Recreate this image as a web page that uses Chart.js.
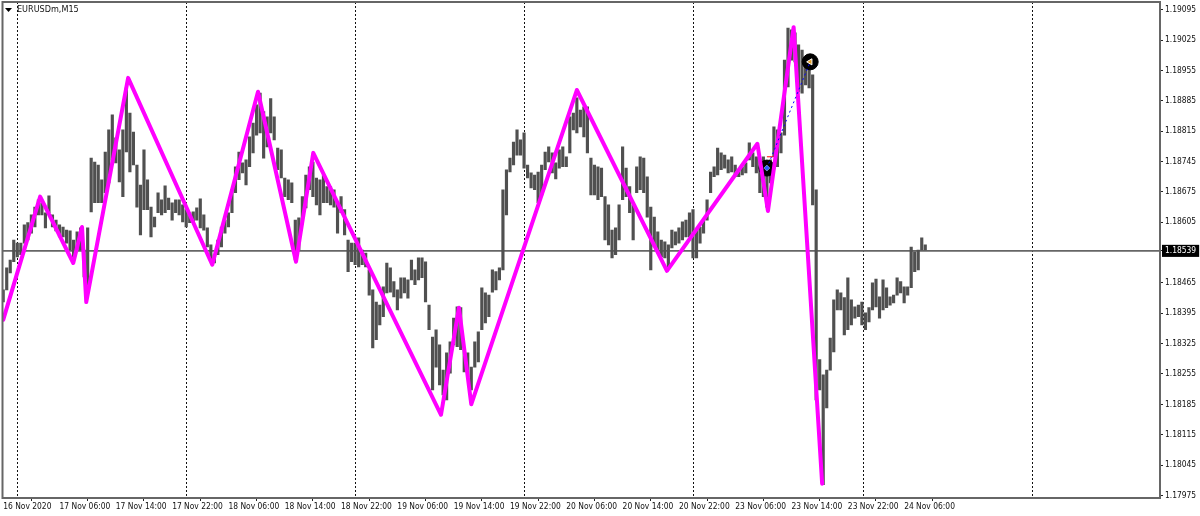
<!DOCTYPE html>
<html><head><meta charset="utf-8">
<style>html,body{margin:0;padding:0;background:#fff}canvas{display:block}</style>
<script src="https://cdn.jsdelivr.net/npm/chart.js@4"></script>
</head><body><canvas id="c" width="1200" height="516"></canvas>
<script>
const symbolTitle = 'EURUSDm,M15';
const timeLabels = ['16 Nov 2020','17 Nov 06:00','17 Nov 14:00','17 Nov 22:00','18 Nov 06:00','18 Nov 14:00','18 Nov 22:00','19 Nov 06:00','19 Nov 14:00','19 Nov 22:00','20 Nov 06:00','20 Nov 14:00','20 Nov 22:00','23 Nov 06:00','23 Nov 14:00','23 Nov 22:00','24 Nov 06:00'];
const labelStep = 16;
const dayLines = [4,52,100,148,196.2,244.5,292.5];
const priceTicks = [1.19095,1.19025,1.18955,1.18885,1.18815,1.18745,1.18675,1.18605,1.18465,1.18395,1.18325,1.18255,1.18185,1.18115,1.18045,1.17975];
const lastPrice = 1.18539;
// half-hour samples, prices in points (1e-5)
const highPts = [118449,118500,118518,118564,118557,118557,118599,118604,118622,118640,118657,118650,118627,118666,118622,118610,118599,118594,118587,118585,118564,118583,118592,118541,118592,118753,118744,118737,118703,118767,118818,118853,118800,118772,118818,118915,118857,118813,118737,118691,118772,118703,118640,118617,118673,118657,118689,118661,118650,118657,118657,118645,118634,118627,118629,118638,118659,118622,118592,118553,118530,118564,118594,118610,118627,118680,118733,118767,118742,118749,118802,118834,118876,118903,118860,118848,118890,118848,118776,118772,118707,118703,118696,118610,118615,118664,118714,118733,118744,118707,118703,118714,118687,118687,118680,118650,118664,118634,118564,118557,118557,118569,118541,118534,118495,118449,118421,118414,118456,118511,118500,118468,118449,118477,118477,118472,118518,118495,118523,118523,118514,118414,118340,118357,118322,118264,118304,118329,118384,118410,118408,118311,118304,118271,118329,118352,118454,118442,118437,118495,118491,118500,118680,118726,118753,118790,118818,118795,118811,118737,118719,118714,118721,118737,118767,118779,118765,118742,118772,118779,118756,118848,118857,118892,118864,118871,118871,118753,118737,118733,118730,118664,118645,118587,118592,118645,118779,118730,118687,118645,118733,118756,118753,118710,118640,118617,118583,118564,118560,118553,118587,118583,118592,118606,118610,118627,118634,118587,118594,118610,118657,118721,118733,118776,118765,118760,118749,118756,118737,118726,118733,118742,118788,118765,118756,118749,118756,118737,118749,118825,118818,118811,118979,119053,119049,119042,119014,119002,118968,118973,118945,118680,118288,118253,118264,118338,118426,118449,118442,118431,118477,118426,118410,118414,118421,118396,118408,118465,118474,118433,118472,118454,118433,118437,118477,118468,118456,118456,118548,118537,118541,118569,118553];
const lowPts = [118421,118449,118488,118514,118525,118530,118557,118564,118580,118594,118622,118622,118592,118627,118594,118585,118571,118571,118557,118541,118525,118541,118541,118479,118456,118629,118650,118650,118650,118673,118696,118749,118742,118698,118664,118767,118721,118737,118640,118576,118634,118634,118571,118594,118627,118622,118627,118634,118610,118627,118622,118606,118594,118604,118604,118610,118592,118587,118548,118518,118511,118530,118548,118580,118594,118627,118673,118703,118719,118691,118733,118765,118806,118811,118753,118779,118811,118795,118726,118707,118664,118657,118650,118518,118541,118604,118638,118680,118664,118645,118622,118650,118650,118645,118640,118580,118627,118576,118491,118514,118507,118502,118507,118502,118437,118315,118334,118368,118387,118442,118444,118433,118403,118430,118442,118430,118472,118461,118472,118477,118421,118357,118218,118271,118230,118207,118195,118257,118322,118318,118311,118260,118248,118218,118271,118283,118357,118373,118387,118444,118449,118472,118495,118622,118721,118737,118760,118760,118730,118707,118684,118680,118650,118668,118726,118744,118719,118705,118730,118733,118733,118765,118818,118811,118825,118802,118765,118668,118668,118657,118664,118564,118553,118523,118530,118564,118657,118664,118627,118564,118673,118680,118673,118617,118495,118548,118534,118525,118523,118502,118546,118553,118557,118564,118571,118571,118523,118523,118557,118580,118610,118673,118710,118714,118726,118730,118719,118721,118710,118710,118714,118719,118749,118733,118719,118673,118664,118640,118696,118756,118733,118765,118806,118917,118979,118975,118906,118903,118922,118915,118645,118195,118218,118000,118177,118264,118306,118403,118403,118345,118357,118368,118384,118387,118368,118357,118375,118403,118410,118384,118403,118408,118414,118419,118437,118442,118419,118437,118454,118491,118495,118541,118541];
const zigIdx = [0,10.5,19.9,22.4,23.6,35.5,59.4,72.4,83.2,88.1,124.4,129.5,133,163,188.6,214.3,217.3,224.6,232.7];
const zigPts = [118380,118664,118511,118594,118421,118938,118507,118906,118514,118765,118161,118408,118185,118910,118493,118786,118631,119055,118002];
const tradeIdx = [217,229.3];
const tradePts = [118730,118975];
const stopIdx = [217,218.8];
const stopPts = [118756,118756];

const xMin = -0.2, xMax = 328.7, yMin = 1.17969, yMax = 1.19113;
const P = v => v / 1e5;
const bars = highPts.map((h,i) => ({x:i, y:[P(lowPts[i]), P(h)]}));
const zig = zigIdx.map((x,i) => ({x, y:P(zigPts[i])}));
const trade = tradeIdx.map((x,i) => ({x, y:P(tradePts[i])}));
const stop = stopIdx.map((x,i) => ({x, y:P(stopPts[i])}));
const font = {family:"'DejaVu Sans Condensed','DejaVu Sans'", size:8.4};

const frame = {
  id:'frame',
  afterDraw(ch){
    const {ctx, chartArea:a} = ch;
    ctx.save();
    ctx.strokeStyle = '#666'; ctx.lineWidth = 2;
    ctx.strokeRect(a.left, a.top, a.right-a.left, a.bottom-a.top);
    ctx.fillStyle = '#000';
    ctx.beginPath(); ctx.moveTo(5,8); ctx.lineTo(12,8); ctx.lineTo(8.5,12); ctx.closePath(); ctx.fill();
    ctx.fillStyle = '#111';
    ctx.font = "9px 'DejaVu Sans Condensed','DejaVu Sans'";
    ctx.textBaseline = 'middle'; ctx.textAlign = 'left';
    ctx.fillText(symbolTitle, 17, 10);
    ctx.restore();
  }
};

new Chart(document.getElementById('c'), {
  data:{datasets:[
    {type:'line', order:6, data:[{x:xMin,y:lastPrice},{x:xMax,y:lastPrice}], borderColor:'#666', borderWidth:1.6, pointRadius:0, xAxisID:'x', yAxisID:'y'},
    {type:'bar', order:5, data:bars, backgroundColor:'#505050', barThickness:2.5, borderWidth:0, borderSkipped:false, xAxisID:'x', yAxisID:'y'},
    {type:'scatter', order:4, data:trade, backgroundColor:'#000', borderColor:'#000', pointRadius:8, pointStyle:'circle', showLine:false},
    {type:'line', order:3, data:zig, borderColor:'#ff00ff', borderWidth:4, borderJoinStyle:'round', borderCapStyle:'round', pointRadius:0, tension:0},
    {type:'line', order:2, data:trade, borderColor:'#0000ff', borderWidth:1, borderDash:[2,3], pointRadius:0},
    {type:'line', order:2, data:stop, borderColor:'#ff0000', borderWidth:1, pointRadius:0},
    {type:'scatter', order:1, data:[trade[0]], backgroundColor:'#2a5cff', borderColor:'#cfe0ff', borderWidth:0.5, pointRadius:3, pointStyle:'rectRot', showLine:false},
    {type:'scatter', order:1, data:[trade[1]], backgroundColor:'#e8a020', borderColor:'#fff', borderWidth:1, pointRadius:3.5, pointStyle:'triangle', rotation:-90, showLine:false}
  ]},
  plugins:[frame],
  options:{
    responsive:false, animation:false, events:[],
    layout:{autoPadding:false, padding:{left:2.5,top:2,right:0,bottom:0}},
    plugins:{legend:{display:false},tooltip:{enabled:false},title:{display:false}},
    scales:{
      x:{type:'linear', position:'bottom', min:xMin, max:xMax, offset:false,
        border:{display:false},
        grid:{drawOnChartArea:false, drawTicks:true, tickLength:3, tickColor:'#222', tickWidth:1},
        afterBuildTicks:ax=>{ax.ticks = timeLabels.map((_,i)=>({value:i*labelStep}));},
        afterFit:ax=>{ax.height = 18; ax.paddingLeft = 0; ax.paddingRight = 0;},
        ticks:{autoSkip:false, maxRotation:0, minRotation:0, align:'start', padding:1, color:'#111', font,
          callback:v=>timeLabels[Math.round(v/labelStep)]}
      },
      x2:{type:'linear', position:'chartArea', min:xMin, max:xMax, offset:false,
        border:{display:false, dash:[2,2]},
        grid:{drawOnChartArea:true, drawTicks:false, color:'#111', lineWidth:1},
        afterBuildTicks:ax=>{ax.ticks = dayLines.map(v=>({value:v}));},
        ticks:{display:false}
      },
      y:{type:'linear', position:'right', min:yMin, max:yMax,
        border:{display:false},
        grid:{drawOnChartArea:false, drawTicks:true, tickLength:3, tickColor:'#222'},
        afterBuildTicks:ax=>{ax.ticks = priceTicks.concat([lastPrice]).map(v=>({value:v}));},
        afterFit:ax=>{ax.width = 40; ax.paddingTop = 0; ax.paddingBottom = 0;},
        ticks:{autoSkip:false, padding:2, font,
          color:c=>c.tick && c.tick.value===lastPrice ? '#fff' : '#111',
          showLabelBackdrop:c=>!!(c.tick && c.tick.value===lastPrice),
          backdropColor:'#000', backdropPadding:{left:3,right:3,top:1,bottom:1},
          callback:v=>v.toFixed(5)}
      }
    }
  }
});
</script></body></html>
